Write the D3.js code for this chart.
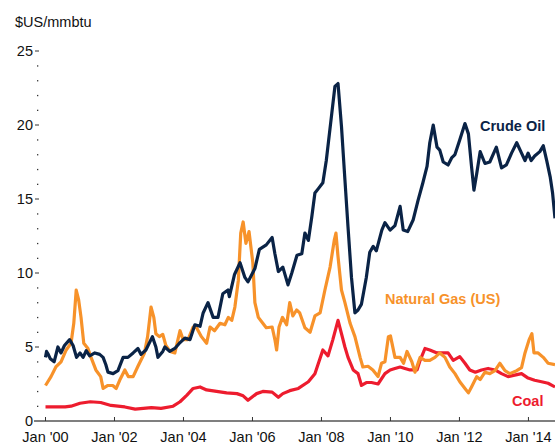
<!DOCTYPE html>
<html>
<meta charset="utf-8">
<title>Energy prices</title>
<script src="https://d3js.org/d3.v7.min.js"></script>
<style>
  body { margin: 0; background: #fff; }
  text { font-family: "Liberation Sans", Arial, sans-serif; }
</style>
<body>
<svg id="chart" width="555" height="445"></svg>
<script>
// values, [year, $US/mmbtu]
var crudeOil = [
  [2000.00,4.3],[2000.03,4.7],[2000.08,4.5],[2000.14,4.2],[2000.25,4.0],[2000.36,5.0],[2000.45,4.6],
  [2000.55,5.1],[2000.70,5.5],[2000.80,5.1],[2000.90,4.3],[2001.00,4.6],[2001.09,4.3],[2001.18,4.75],
  [2001.28,4.4],[2001.43,4.6],[2001.57,4.5],[2001.67,4.3],[2001.75,3.8],[2001.81,3.3],[2001.96,3.2],
  [2002.10,3.4],[2002.25,4.3],[2002.39,4.3],[2002.54,4.6],[2002.68,4.9],[2002.77,4.5],[2002.91,4.8],
  [2003.10,5.7],[2003.20,5.0],[2003.26,4.3],[2003.40,4.7],[2003.46,5.0],[2003.60,4.7],[2003.75,4.9],
  [2003.90,5.3],[2004.04,5.6],[2004.19,5.5],[2004.33,6.5],[2004.48,6.4],[2004.57,7.3],[2004.71,8.0],
  [2004.86,7.0],[2005.00,7.0],[2005.14,8.6],[2005.29,8.85],[2005.33,8.4],[2005.48,9.9],[2005.64,10.7],
  [2005.78,9.7],[2005.87,9.4],[2006.07,10.3],[2006.20,11.6],[2006.40,11.9],[2006.57,12.4],[2006.65,11.3],
  [2006.75,10.1],[2006.88,10.4],[2007.03,9.2],[2007.14,10.0],[2007.29,11.2],[2007.43,11.3],[2007.52,12.7],
  [2007.62,12.2],[2007.72,13.8],[2007.81,15.4],[2007.91,15.7],[2008.04,16.1],[2008.14,17.6],[2008.30,20.8],
  [2008.39,22.6],[2008.48,22.8],[2008.58,19.9],[2008.68,16.3],[2008.77,13.1],[2008.87,9.7],[2008.97,7.3],
  [2009.06,7.5],[2009.16,7.9],[2009.30,9.7],[2009.40,11.4],[2009.50,11.8],[2009.59,11.5],[2009.75,12.9],
  [2009.84,13.4],[2009.99,12.9],[2010.13,13.2],[2010.28,14.5],[2010.37,12.9],[2010.50,12.8],[2010.66,13.6],
  [2010.80,14.9],[2010.94,16.1],[2011.06,17.2],[2011.14,18.8],[2011.24,20.0],[2011.35,18.5],[2011.43,18.3],
  [2011.53,17.5],[2011.67,17.3],[2011.78,17.8],[2011.87,18.0],[2012.01,19.0],[2012.16,20.1],[2012.26,19.4],
  [2012.35,17.2],[2012.42,15.6],[2012.50,16.7],[2012.60,18.2],[2012.74,17.4],[2012.88,17.5],[2013.07,18.5],
  [2013.22,17.1],[2013.36,17.3],[2013.51,18.1],[2013.66,18.8],[2013.80,18.1],[2013.90,17.6],[2013.99,18.1],
  [2014.08,17.6],[2014.18,17.9],[2014.33,18.2],[2014.43,18.6],[2014.53,17.6],[2014.63,16.5],[2014.70,15.4],
  [2014.77,13.7]
];

var naturalGas = [
  [2000.00,2.4],[2000.16,3.0],[2000.30,3.65],[2000.45,4.0],[2000.60,4.8],[2000.74,5.25],[2000.82,6.6],
  [2000.89,8.85],[2000.96,8.2],[2001.03,7.0],[2001.11,5.25],[2001.23,4.9],[2001.32,4.3],[2001.46,3.45],
  [2001.60,3.0],[2001.67,2.2],[2001.81,2.4],[2001.95,2.4],[2002.05,2.2],[2002.15,2.75],[2002.30,3.45],
  [2002.40,3.0],[2002.54,3.0],[2002.68,3.7],[2002.87,4.6],[2002.96,5.7],[2003.06,7.7],[2003.14,7.0],
  [2003.20,5.9],[2003.30,5.7],[2003.40,5.85],[2003.49,5.1],[2003.61,4.7],[2003.75,4.6],[2003.90,6.1],
  [2003.99,5.5],[2004.13,5.5],[2004.28,6.35],[2004.38,6.3],[2004.52,5.7],[2004.67,5.25],[2004.77,6.35],
  [2004.90,6.1],[2005.06,6.6],[2005.20,6.5],[2005.30,7.0],[2005.40,6.8],[2005.49,7.7],[2005.59,9.5],
  [2005.66,12.7],[2005.73,13.45],[2005.81,12.0],[2005.90,12.8],[2006.01,10.7],[2006.07,8.0],[2006.17,7.0],
  [2006.30,6.6],[2006.40,6.3],[2006.57,6.35],[2006.65,5.5],[2006.70,4.8],[2006.77,6.35],[2006.87,7.0],
  [2006.99,6.5],[2007.08,8.0],[2007.17,7.1],[2007.28,7.5],[2007.37,7.3],[2007.52,6.3],[2007.67,6.0],
  [2007.81,7.1],[2007.96,7.3],[2008.10,8.85],[2008.25,10.4],[2008.37,12.2],[2008.42,12.7],[2008.48,11.1],
  [2008.58,8.85],[2008.68,8.0],[2008.83,6.6],[2008.97,5.7],[2009.12,4.3],[2009.20,3.65],[2009.35,3.7],
  [2009.49,3.45],[2009.64,3.0],[2009.74,3.9],[2009.84,4.0],[2009.94,5.7],[2010.00,5.75],[2010.13,4.3],
  [2010.28,4.3],[2010.38,3.9],[2010.48,4.7],[2010.62,4.0],[2010.71,3.3],[2010.86,4.3],[2011.00,4.1],
  [2011.14,4.1],[2011.29,4.3],[2011.43,4.6],[2011.58,4.3],[2011.72,3.65],[2011.87,3.2],[2012.01,2.65],
  [2012.16,2.2],[2012.26,1.9],[2012.35,2.3],[2012.50,3.0],[2012.60,2.8],[2012.74,3.3],[2012.88,3.2],
  [2013.03,3.4],[2013.17,3.9],[2013.32,3.4],[2013.46,3.2],[2013.66,3.4],[2013.80,3.6],[2013.90,4.6],
  [2014.02,5.5],[2014.10,5.9],[2014.16,4.6],[2014.28,4.6],[2014.43,4.3],[2014.57,3.9],[2014.77,3.8]
];

var coal = [
  [2000.00,0.95],[2000.57,0.95],[2000.74,1.0],[2001.00,1.2],[2001.30,1.3],[2001.60,1.25],[2001.90,1.05],
  [2002.30,0.95],[2002.60,0.8],[2003.07,0.9],[2003.35,0.85],[2003.70,1.0],[2003.90,1.3],[2004.10,1.75],
  [2004.28,2.2],[2004.48,2.3],[2004.67,2.1],[2004.96,2.0],[2005.25,1.9],[2005.55,1.85],[2005.73,1.7],
  [2005.87,1.4],[2006.12,1.85],[2006.30,2.0],[2006.57,1.95],[2006.75,1.6],[2006.88,1.85],[2007.08,2.05],
  [2007.33,2.2],[2007.62,2.65],[2007.81,3.2],[2008.04,4.8],[2008.19,4.4],[2008.33,5.5],[2008.48,6.8],
  [2008.58,5.9],[2008.68,5.0],[2008.77,4.3],[2008.92,3.45],[2009.06,3.2],[2009.16,2.4],[2009.30,2.6],
  [2009.45,2.6],[2009.64,2.5],[2009.84,3.2],[2009.99,3.45],[2010.13,3.55],[2010.28,3.65],[2010.42,3.55],
  [2010.57,3.45],[2010.77,3.45],[2010.86,4.1],[2011.00,4.9],[2011.14,4.8],[2011.35,4.6],[2011.53,4.6],
  [2011.67,4.6],[2011.82,4.1],[2012.01,4.35],[2012.16,3.9],[2012.30,3.45],[2012.46,3.3],[2012.64,3.45],
  [2012.83,3.55],[2013.03,3.45],[2013.22,3.2],[2013.41,3.0],[2013.60,3.1],[2013.80,3.2],[2013.99,2.9],
  [2014.18,2.75],[2014.38,2.65],[2014.57,2.55],[2014.77,2.3]
];

var tickYears = [2000, 2002, 2004, 2006, 2008, 2010, 2012, 2014];
var tickLabels = ["Jan '00", "Jan '02", "Jan '04", "Jan '06", "Jan '08", "Jan '10", "Jan '12", "Jan '14"];
var yTicks = [0, 5, 10, 15, 20, 25];

var svg = d3.select("#chart");

var x = d3.scaleLinear().domain([2000, 2014.77]).range([45.5, 555]);
var y = d3.scaleLinear().domain([0, 25]).range([421, 51]);

// unit title
svg.append("text")
  .attr("x", 15).attr("y", 27)
  .attr("font-size", 14.5).attr("fill", "#111")
  .text("$US/mmbtu");

// y axis: major dashes + dotted minor ticks, no spine
var yAxis = svg.append("g").attr("transform", "translate(40,0)");
yAxis.selectAll(".minor")
  .data(d3.range(0, 26).filter(function(d){ return d % 5 != 0; }))
  .enter().append("rect")
  .attr("x", -3).attr("y", function(d){ return y(d) - 0.5; })
  .attr("width", 1.3).attr("height", 1.3)
  .attr("fill", "#333");
yAxis.selectAll(".major")
  .data(yTicks.filter(function(d){ return d > 0; }))
  .enter().append("line")
  .attr("x1", -5).attr("x2", -1)
  .attr("y1", function(d){ return y(d); }).attr("y2", function(d){ return y(d); })
  .attr("stroke", "#333").attr("stroke-width", 1);
yAxis.selectAll(".lab")
  .data(yTicks)
  .enter().append("text")
  .attr("x", -7).attr("y", function(d){ return y(d) + 5; })
  .attr("text-anchor", "end")
  .attr("font-size", 14.5).attr("fill", "#111")
  .text(function(d){ return d; });

// x axis
svg.append("line")
  .attr("x1", 34).attr("x2", 555)
  .attr("y1", y(0)).attr("y2", y(0))
  .attr("stroke", "#555").attr("stroke-width", 1.5);
svg.selectAll(".xtick")
  .data(tickYears)
  .enter().append("line")
  .attr("x1", function(d){ return x(d); }).attr("x2", function(d){ return x(d); })
  .attr("y1", y(0) - 4).attr("y2", y(0))
  .attr("stroke", "#333").attr("stroke-width", 1);
svg.selectAll(".xlab")
  .data(tickYears)
  .enter().append("text")
  .attr("x", function(d){ return x(d); }).attr("y", 442)
  .attr("text-anchor", "middle")
  .attr("font-size", 14.5).attr("fill", "#111")
  .text(function(d, i){ return tickLabels[i]; });

var line = d3.line()
  .x(function(d){ return x(d[0]); })
  .y(function(d){ return y(d[1]); });

var series = [
  { data: coal, color: "#ED1C2E" },
  { data: naturalGas, color: "#F7922A" },
  { data: crudeOil, color: "#0A2346" }
];
series.forEach(function(s){
  svg.append("path")
    .datum(s.data)
    .attr("d", line)
    .attr("fill", "none")
    .attr("stroke", s.color)
    .attr("stroke-width", 3.2)
    .attr("stroke-linejoin", "round");
});

// series labels
svg.append("text").attr("x", 480).attr("y", 131)
  .attr("font-size", 14.5).attr("font-weight", "bold").attr("fill", "#0A2346")
  .text("Crude Oil");
svg.append("text").attr("x", 385).attr("y", 304)
  .attr("font-size", 14.5).attr("font-weight", "bold").attr("fill", "#F7922A")
  .text("Natural Gas (US)");
svg.append("text").attr("x", 512).attr("y", 406)
  .attr("font-size", 14.5).attr("font-weight", "bold").attr("fill", "#ED1C2E")
  .text("Coal");
</script>
</body>
</html>
